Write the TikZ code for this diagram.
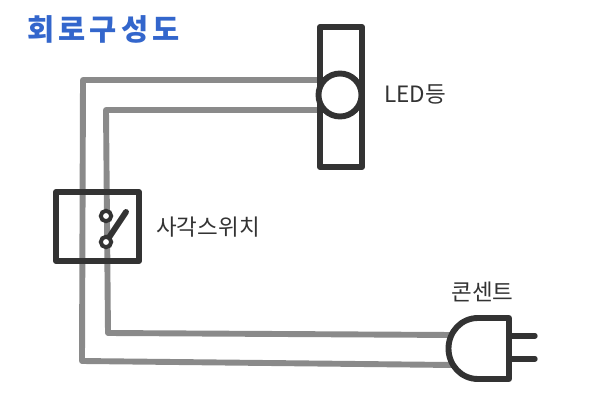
\documentclass[tikz,border=0pt]{standalone}
\usepackage{fontspec}
\setmainfont{Noto Sans CJK KR}
\newfontfamily\titlefont[LetterSpace=14]{Noto Sans CJK KR}
\usetikzlibrary{shapes}
\definecolor{wiregray}{HTML}{8A8A8A}
\definecolor{partdark}{HTML}{333333}
\definecolor{titleblue}{HTML}{3366CC}
\tikzset{wire/.style={draw=wiregray,line width=4.2pt,line cap=round,line join=round},
	part/.style={draw=partdark,line width=4.2pt,line cap=round,line join=round},
	pin/.style={part,line width=3.8pt},
	label/.style={text=partdark,inner sep=0pt,font=\fontsize{16pt}{18pt}\selectfont}}
\tikzstyle{ledbar}=[rectangle,part,inner sep=0pt,outer sep=0pt,minimum width=1.05cm,minimum height=3.5cm]
\tikzstyle{ledlamp}=[circle,part,fill=white,inner sep=0pt,outer sep=0pt,minimum size=1.075cm]
\tikzstyle{swbox}=[rectangle,part,inner sep=0pt,outer sep=0pt,minimum width=2.075cm,minimum height=1.725cm]
\tikzstyle{swpin}=[circle,draw=partdark,line width=2.8pt,fill=white,inner sep=0pt,outer sep=0pt,minimum size=0.26cm]

\begin{document}
\begin{tikzpicture}[x=0.025cm,y=-0.025cm]
	\useasboundingbox (0,0) rectangle (600,400);

	\coordinate (o1) at (83,80);
	\coordinate (o2) at (82,361);
	\coordinate (o3) at (452,365);
	\coordinate (o4) at (320,80);
	\coordinate (i1) at (106,110);
	\coordinate (i2) at (108,333);
	\coordinate (i3) at (452,335);
	\coordinate (i4) at (320,110);
	\draw [wire] (o4) -- (o1) -- (o2) -- (o3);
	\draw [wire] (i4) -- (i1) -- (i2) -- (i3);

	\node at (341,97) [ledbar] (bar) {};
	\node at (340,95) [ledlamp] (lamp) {};
	\node at (97.5,226.5) [swbox] (box) {};

	\coordinate (tip) at (126,212);
	\draw [part] (106,242) coordinate (hinge) -- (tip);
	\node at (106,216) [swpin] (s1) {};
	\node at (106,242) [swpin] (s2) {};

	\coordinate (p1) at (509,318);
	\coordinate (p2) at (509,379);
	\coordinate (p3) at (509,336);
	\coordinate (p4) at (509,359);
	\coordinate (t1) at (535,336);
	\coordinate (t2) at (535,359);
	\draw [pin] (p3) -- (t1);
	\draw [pin] (p4) -- (t2);
	\draw [part,fill=white] (p1) -- (478,318) .. controls (461,318) and (448.5,332) .. (448.5,348.5) .. controls (448.5,365) and (461,379) .. (478,379) -- (p2) -- cycle;

	\node at (27,29) [anchor=west,inner sep=0pt,text=titleblue,font=\titlefont\bfseries\fontsize{21pt}{24pt}\selectfont] (title) {회로구성도};
	\node at (384,94) [label,anchor=west] (ledtext) {LED등};
	\node at (156,227) [label,anchor=west] (swtext) {사각스위치};
	\node at (482.5,292) [label] (plugtext) {콘센트};
\end{tikzpicture}
\end{document}
